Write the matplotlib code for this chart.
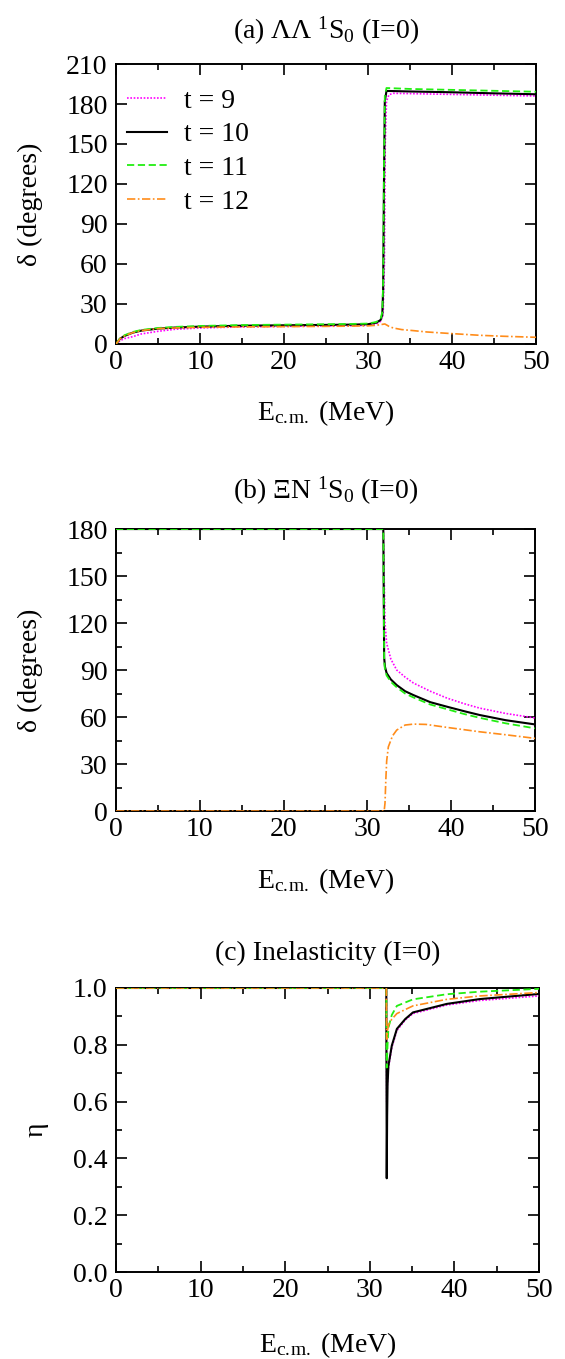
import numpy as np
import matplotlib.pyplot as plt
from matplotlib.ticker import MultipleLocator

plt.rcParams['font.family'] = ['Liberation Serif', 'DejaVu Serif']
plt.rcParams['mathtext.fontset'] = 'custom'
plt.rcParams['mathtext.rm'] = 'Liberation Serif'
plt.rcParams['mathtext.it'] = 'Liberation Serif:italic'
plt.rcParams['font.size'] = 20

# ---- panel (a): LL 1S0 phase shift ----
ea_9 = [0, 0.5, 1, 2, 3, 5, 7, 10, 15, 20, 25, 28, 30, 31, 31.5, 31.8, 31.95, 32.05, 32.2, 32.5, 33, 35, 40, 45, 50]
da_9 = [0, 2.5, 4, 5.5, 7.5, 9.5, 11, 12, 12.8, 13.2, 13.5, 13.7, 14, 15, 17, 22, 60, 150, 182, 187, 188, 187.8, 187.2, 186.6, 186]
ea_10 = [0, 0.5, 1, 2, 3, 5, 7, 10, 15, 20, 25, 28, 30, 31, 31.5, 31.7, 31.8, 31.9, 32.0, 32.2, 33, 35, 40, 45, 50]
da_10 = [0, 4, 6, 8.5, 10, 11.5, 12.3, 13, 13.7, 14, 14.3, 14.5, 14.8, 16, 18, 22, 40, 120, 182, 189.8, 189.7, 189.4, 188.8, 188, 187.3]
ea_11 = [0, 0.5, 1, 2, 3, 5, 7, 10, 15, 20, 25, 28, 30, 31, 31.5, 31.7, 31.8, 31.9, 32.0, 32.2, 33, 35, 40, 45, 50]
da_11 = [0, 4.5, 6.5, 9, 10.5, 12, 12.8, 13.5, 14.2, 14.5, 14.8, 15, 15.3, 16.5, 19, 24, 45, 130, 186, 192, 191.8, 191.3, 190.6, 189.9, 189.2]
ea_12 = [0, 0.5, 1, 2, 3, 5, 7, 10, 15, 20, 25, 28, 30, 31, 31.5, 32.0, 32.2, 32.5, 33, 34, 35.4, 37, 39.4, 43.3, 46, 50]
da_12 = [0, 4, 6, 8.5, 10, 11.5, 12, 12.5, 12.8, 13, 13.2, 13.4, 13.6, 14, 14.5, 15, 14.3, 13.2, 12, 10.8, 10, 9, 8, 6.5, 5.8, 5]

# ---- panel (b): XiN 1S0 phase shift ----
eb_9 = [0, 31.9, 32.0, 32.1, 32.3, 32.8, 33.5, 34.5, 35.5, 37.5, 39.5, 41.5, 43.4, 46.5, 50]
db_9 = [180, 180, 150, 120, 107, 97, 90, 85.5, 81.7, 76.5, 72.1, 68.6, 65.7, 62.3, 59.4]
eb_10 = [0, 31.9, 32.0, 32.1, 32.3, 32.8, 33.5, 34.5, 35.5, 37.5, 39.5, 41.5, 43.4, 46.5, 50]
db_10 = [180, 180, 98, 92, 88, 84, 80.4, 76.5, 74, 69.5, 66.6, 63.8, 61.3, 58, 55.3]
eb_11 = [0, 31.9, 32.0, 32.1, 32.3, 32.8, 33.5, 34.5, 35.5, 37.5, 39.5, 41.5, 43.4, 46.5, 50]
db_11 = [180, 180, 96, 90, 86.5, 82.5, 79, 75, 72.5, 68, 65, 62, 59.5, 56, 52.8]
eb_12 = [0, 32.0, 32.1, 32.2, 32.3, 32.5, 33.0, 33.5, 34.5, 35.5, 37, 39.5, 43.4, 46.5, 50]
db_12 = [0, 0, 5, 20, 32, 41, 48, 51.7, 54.9, 55.5, 55.3, 53.4, 50.6, 48.7, 46.4]

# ---- panel (c): inelasticity ----
ec_9 = [0, 31.95, 32.0, 32.1, 32.2, 32.6, 33.2, 34.2, 35.1, 39.1, 43.0, 50]
eta_9 = [1, 1, 0.6, 0.68, 0.72, 0.79, 0.85, 0.888, 0.91, 0.94, 0.956, 0.972]
ec_10 = [0, 31.95, 32.0, 32.05, 32.1, 32.2, 32.6, 33.2, 34.2, 35.1, 39.1, 43.0, 50]
eta_10 = [1, 1, 0.33, 0.55, 0.66, 0.726, 0.797, 0.856, 0.891, 0.914, 0.944, 0.961, 0.979]
ec_11 = [0, 31.95, 32.0, 32.1, 32.2, 32.6, 33.2, 35.1, 39.1, 43.0, 50]
eta_11 = [1, 1, 0.72, 0.8, 0.86, 0.905, 0.937, 0.96, 0.978, 0.987, 0.997]
ec_12 = [0, 31.95, 32.0, 32.1, 32.2, 32.6, 33.2, 35.1, 39.1, 43.0, 50]
eta_12 = [1, 1, 0.82, 0.85, 0.87, 0.89, 0.91, 0.937, 0.96, 0.972, 0.984]

labels = ['t = 9', 't = 10', 't = 11', 't = 12']
colors = ['#ff00ff', 'black', '#22ee11', '#ff8c1a']
styles = [dict(ls=(0, (1, 1)), lw=1.2), dict(ls='-', lw=1.5),
          dict(ls=(0, (4, 2)), lw=1.3), dict(ls=(0, (5, 1.5, 1, 1.5)), lw=1.2)]

fig = plt.figure(figsize=(5.65, 13.59), dpi=100)
axa = fig.add_axes([0.2053, 0.7469, 0.7434, 0.2060])
axb = fig.add_axes([0.2053, 0.4032, 0.7416, 0.2075])
axc = fig.add_axes([0.2053, 0.0640, 0.7487, 0.2090])

panels = [
    (axa, [(ea_9, da_9), (ea_10, da_10), (ea_11, da_11), (ea_12, da_12)]),
    (axb, [(eb_9, db_9), (eb_10, db_10), (eb_11, db_11), (eb_12, db_12)]),
    (axc, [(ec_9, eta_9), (ec_10, eta_10), (ec_11, eta_11), (ec_12, eta_12)]),
]

for ax, series in panels:
    for (x, y), lab, c, st in zip(series, labels, colors, styles):
        ax.plot(x, y, color=c, label=lab, zorder=3, **st)
    ax.set_xlim(0, 50)
    ax.xaxis.set_major_locator(MultipleLocator(10))
    ax.xaxis.set_minor_locator(MultipleLocator(5))
    ax.tick_params(which='both', direction='in', top=True, right=True, width=1.2)
    ax.tick_params(which='major', length=8, labelsize=20)
    ax.tick_params(axis='x', which='major', pad=4)
    ax.tick_params(axis='y', which='major', pad=6)
    ax.tick_params(which='minor', length=4.5)
    for sp in ax.spines.values():
        sp.set_linewidth(1.4)
    ax.set_xlabel(r'E$_{\rm c.\!m.}$ (MeV)', fontsize=20)

axa.set_ylim(0, 210)
axa.yaxis.set_major_locator(MultipleLocator(30))
axa.yaxis.set_minor_locator(MultipleLocator(30))
axa.set_ylabel('δ (degrees)', fontsize=20)
axa.yaxis.set_label_coords(-0.174, 0.5)
axa.xaxis.set_label_coords(0.5, -0.193)
axa.set_title(r'(a) ΛΛ$\ ^{1}$S$_{0}$ (I=0)', fontsize=20, pad=18.5)
axa.legend(loc='upper left', bbox_to_anchor=(0.026, 0.914), frameon=False,
           fontsize=20, handlelength=1.44, handletextpad=0.61, labelspacing=0.3,
           borderaxespad=0, borderpad=0)

axb.set_ylim(0, 180)
axb.yaxis.set_major_locator(MultipleLocator(30))
axb.yaxis.set_minor_locator(MultipleLocator(15))
axb.set_ylabel('δ (degrees)', fontsize=20)
axb.yaxis.set_label_coords(-0.174, 0.5)
axb.xaxis.set_label_coords(0.5, -0.195)
axb.set_title(r'(b) ΞN$\ ^{1}$S$_{0}$ (I=0)', fontsize=20, pad=21.5)

axc.set_ylim(0, 1.0)
axc.yaxis.set_major_locator(MultipleLocator(0.2))
axc.yaxis.set_minor_locator(MultipleLocator(0.1))
axc.yaxis.set_major_formatter(plt.FormatStrFormatter('%.1f'))
axc.set_ylabel('η', fontsize=20)
axc.yaxis.set_label_coords(-0.16, 0.5)
axc.xaxis.set_label_coords(0.5, -0.204)
axc.set_title('(c) Inelasticity (I=0)', fontsize=20, pad=20)

fig.savefig('out.png', dpi=100)
